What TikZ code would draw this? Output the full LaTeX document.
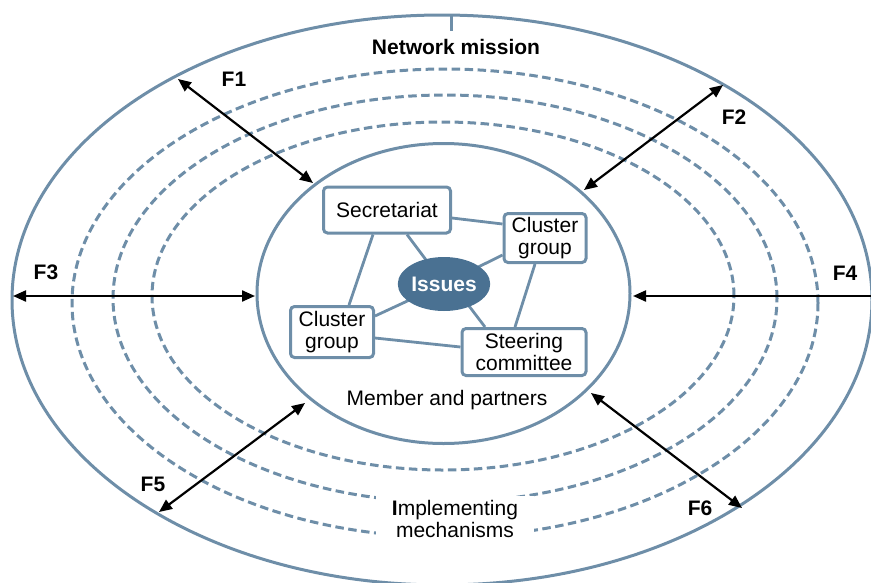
\documentclass[tikz,border=0pt]{standalone}
\usepackage{fontspec}
\setmainfont{Liberation Sans}
\usetikzlibrary{arrows.meta,calc,backgrounds,shapes.geometric}
\definecolor{steel}{HTML}{6E8EA8}
\definecolor{issueblue}{HTML}{4A7192}
\begin{document}
\begin{tikzpicture}[x=1pt,y=-1pt,
  ring/.style={draw=steel,line width=3pt},
  dring/.style={draw=steel,line width=3pt,dash pattern=on 8.5pt off 4.5pt},
  box/.style={draw=steel,line width=3pt,rounded corners=4pt,fill=white,align=center,inner sep=0pt,font=\fontsize{21}{22}\selectfont},
  link/.style={draw=steel,line width=2.8pt},
  flow/.style={line width=2.2pt,{Triangle[length=13pt,width=11pt]}-{Triangle[length=13pt,width=11pt]}},
  lab/.style={font=\fontsize{21}{22}\selectfont\bfseries},
  txt/.style={font=\fontsize{21}{22.5}\selectfont,align=center}]
\useasboundingbox (0,0) rectangle (871,582);
\clip (0,0) rectangle (871,582);
% rings
\draw[ring] (442,300) ellipse [x radius=430pt, y radius=285pt];
\draw[ring] (451,15) -- (451,31);
\draw[dring] (445,303) ellipse [x radius=373pt, y radius=234pt];
\draw[dring] (445,298.5) ellipse [x radius=332pt, y radius=203.5pt];
\draw[dring] (443,296) ellipse [x radius=291pt, y radius=174pt];
\draw[ring] (443.5,293.5) ellipse [x radius=186.5pt, y radius=150pt];
% texts
\node[lab] (mission) at (456,47) {Network mission};
\node[txt] (member) at (447,400) {Member and partners};
\node[txt,fill=white,inner xsep=16pt,inner ysep=4pt] (impl) at (455,519) {\textbf{I}mplementing\\mechanisms};
% inner nodes
\node[box,minimum width=127pt,minimum height=46pt] (sec) at (387,210) {Secretariat};
\node[box,minimum width=82pt,minimum height=49pt] (cr) at (545,238) {Cluster\\group};
\node[box,minimum width=83pt,minimum height=51pt] (cl) at (332,332) {Cluster\\group};
\node[box,minimum width=124pt,minimum height=47pt] (st) at (524,352) {Steering\\committee};
\node[ellipse,fill=issueblue,minimum width=84pt,minimum height=54pt,inner sep=0pt,text=white,lab] (iss) at (444,284) {Issues};
\begin{scope}[on background layer]
\draw[link] ($(sec.south)+(20,0)$) -- (iss.center);
\draw[link] ($(sec.east)+(0,8)$) -- ($(cr.west)+(0,-14)$);
\draw[link] ($(sec.south)+(-14,0)$) -- ($(cl.north)+(17,0)$);
\draw[link] ($(cr.west)+(0,17)$) -- (iss.center);
\draw[link] ($(cl.east)+(0,-16)$) -- (iss.center);
\draw[link] ($(st.north)+(-39,0)$) -- ($(iss.center)+(22,18)$);
\draw[link] ($(cr.south)+(-10,0)$) -- ($(st.north)+(-9,0)$);
\draw[link] ($(cl.east)+(0,6)$) -- ($(st.west)+(0,-5)$);
\end{scope}
% flows
\coordinate (f1o) at (178,79); \coordinate (f1i) at (313,183);
\coordinate (f2o) at (723,85); \coordinate (f2i) at (584,190);
\coordinate (f3o) at (13,296); \coordinate (f3i) at (255,296);
\coordinate (f4o) at (890,296); \coordinate (f4i) at (633,296);
\coordinate (f5o) at (159,512); \coordinate (f5i) at (305,403);
\coordinate (f6o) at (742,508); \coordinate (f6i) at (591,393);
\draw[flow] (f1o) -- (f1i);
\draw[flow] (f2o) -- (f2i);
\draw[flow] (f3o) -- (f3i);
\draw[flow] (f4o) -- (f4i);
\draw[flow] (f5o) -- (f5i);
\draw[flow] (f6o) -- (f6i);
\node[lab] (F1) at (234,79) {F1};
\node[lab] (F2) at (734,117) {F2};
\node[lab] (F3) at (46,272) {F3};
\node[lab] (F4) at (845,273) {F4};
\node[lab] (F5) at (153,484) {F5};
\node[lab] (F6) at (700,508) {F6};
\end{tikzpicture}
\end{document}
